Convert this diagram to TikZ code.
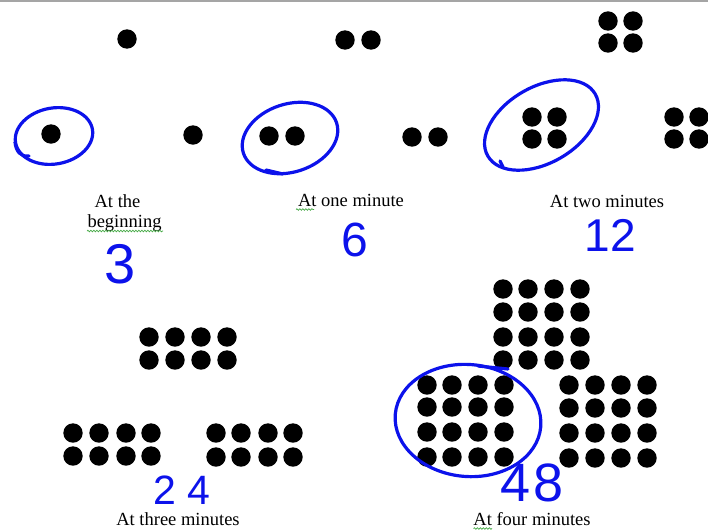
\documentclass[tikz,border=0pt]{standalone}
\usepackage{fontspec}
\setmainfont{Liberation Serif}
\newfontfamily\handfont{Liberation Sans}
\usetikzlibrary{decorations.pathmorphing}
\definecolor{penblue}{RGB}{12,18,235}
\definecolor{spell}{RGB}{70,170,70}
\definecolor{topline}{RGB}{165,165,165}
\begin{document}
\begin{tikzpicture}[x=1pt,y=1pt,
  pen/.style={draw=penblue,line width=3.2pt,line cap=round,line join=round},
  lab/.style={font=\fontsize{18.5}{21}\selectfont,inner sep=0pt,anchor=base},
  num/.style={text=penblue,inner sep=0pt,font=\handfont},
  squiggle/.style={draw=spell,line width=0.7pt,decorate,decoration={snake,amplitude=0.8pt,segment length=3pt}}]
\useasboundingbox (0,-530) rectangle (708,0);
\fill[white] (0,-530) rectangle (708,0);
\draw[topline,line width=2pt] (0,-1) -- (708,-1);
\def\r{9.7}
% at the beginning
\foreach \x/\y in {127/39,51/134,193/135} \fill (\x,-\y) circle (\r);
% at one minute
\foreach \x/\y in {345/40,371/40,269/136,295/136,412/137,438/137} \fill (\x,-\y) circle (\r);
% at two minutes
\foreach \x in {608,633} \foreach \y in {21,43} \fill (\x,-\y) circle (\r);
\foreach \x in {532,557} \foreach \y in {117,139} \fill (\x,-\y) circle (\r);
\foreach \x in {674,699} \foreach \y in {117,139} \fill (\x,-\y) circle (\r);
% at three minutes
\foreach \x in {149,175,201,227} \foreach \y in {337,360} \fill (\x,-\y) circle (\r);
\foreach \x in {73,99,126,151} \foreach \y in {433,456} \fill (\x,-\y) circle (\r);
\foreach \x in {216,241,268,293} \foreach \y in {433,457} \fill (\x,-\y) circle (\r);
% at four minutes
\foreach \x in {503,528,554,580} \foreach \y in {289,312,337,360} \fill (\x,-\y) circle (\r);
\foreach \x in {427,452,478,504} \foreach \y in {385,407,432,457} \fill (\x,-\y) circle (\r);
\foreach \x in {569,595,621,647} \foreach \y in {385,408,433,458} \fill (\x,-\y) circle (\r);
% blue loops
\draw[pen,rotate around={10:(54,-136)}] (54,-136) ellipse [x radius=39,y radius=28];
\draw[pen] (15,-142) .. controls (16,-152) and (21,-157) .. (29,-156);
\draw[pen,rotate around={18:(290,-138)}] (290,-138) ellipse [x radius=49,y radius=34];
\draw[pen] (266,-170) -- (283,-174);
\draw[pen,rotate around={30:(541.5,-125)}] (541.5,-125) ellipse [x radius=62,y radius=38];
\draw[pen] (500,-161) -- (503,-167);
\draw[pen,rotate around={-5:(468,-420.5)}] (468,-420.5) ellipse [x radius=73,y radius=56];
\draw[pen] (478,-366) -- (508,-369);
% labels
\node[lab] (beg1) at (117.5,-207) {At the};
\node[lab] (beg2) at (124.5,-227) {beginning};
\node[lab] (one) at (351,-206) {At one minute};
\node[lab] (two) at (607,-207) {At two minutes};
\node[lab] (three) at (178,-525) {At three minutes};
\node[lab] (four) at (532,-525) {At four minutes};
\draw[squiggle] (87,-231) -- (163,-231);
\draw[squiggle] (296,-209.5) -- (314,-209.5);
\draw[squiggle] (473.5,-528.5) -- (492,-528.5);
% handwritten counts
\node[num,font=\handfont\fontsize{56}{58}\selectfont] (n3) at (120,-264) {3};
\node[num,font=\handfont\fontsize{48}{50}\selectfont] (n6) at (355,-240) {6};
\node[num,font=\handfont\fontsize{46}{48}\selectfont] (n12) at (610,-235) {12};
\node[num,font=\handfont\fontsize{41}{43}\selectfont] (n24) at (182,-490) {2\kern12pt4};
\node[num,font=\handfont\fontsize{54}{56}\selectfont] (n48) at (532,-483) {4\kern3pt8};
\end{tikzpicture}
\end{document}
